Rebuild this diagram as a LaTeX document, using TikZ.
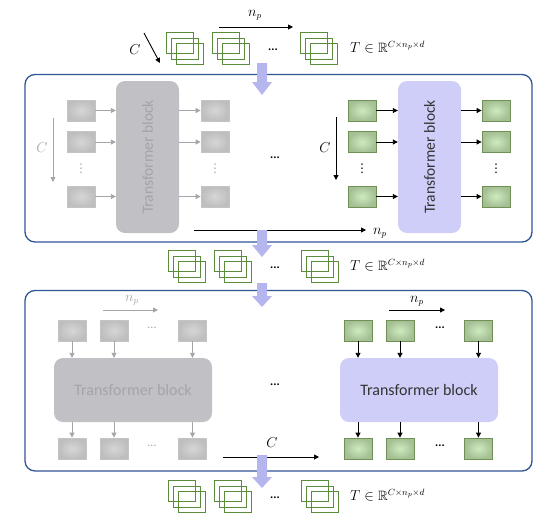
\documentclass[tikz,border=0pt]{standalone}
\usepackage{fontspec}
\setmainfont{Carlito}
\newfontfamily\symfont{DejaVu Sans}
\usepackage{amssymb}
\usetikzlibrary{arrows.meta}
\definecolor{frameblue}{RGB}{47,85,151}
\definecolor{stackgreen}{RGB}{90,140,60}
\definecolor{patchedge}{RGB}{110,145,85}
\definecolor{patchin}{RGB}{205,235,192}
\definecolor{patchout}{RGB}{165,190,148}
\definecolor{grayedge}{RGB}{196,196,196}
\definecolor{grayin}{RGB}{214,214,214}
\definecolor{grayout}{RGB}{190,190,190}
\definecolor{blockgray}{RGB}{192,192,197}
\definecolor{fadegray}{RGB}{165,165,168}
\definecolor{lav}{RGB}{206,206,248}
\definecolor{fatlav}{RGB}{182,182,238}
\begin{document}
\begin{tikzpicture}[x=1pt,y=-1pt,
  frame/.style={draw=frameblue,line width=1.3pt,rounded corners=10pt},
  stack/.style={draw=stackgreen,line width=0.9pt,minimum width=27pt,minimum height=21pt,inner sep=0pt},
  patch/.style={draw=patchedge,line width=0.8pt,inner color=patchin,outer color=patchout,minimum width=28pt,minimum height=21pt,inner sep=0pt},
  gpatch/.style={draw=grayedge,line width=0.8pt,inner color=grayin,outer color=grayout,minimum width=28pt,minimum height=21pt,inner sep=0pt},
  pblock/.style={fill=lav,rounded corners=9pt,inner sep=0pt,text=black!80,font=\fontsize{16}{18}\selectfont},
  gblock/.style={fill=blockgray,rounded corners=9pt,inner sep=0pt,text=fadegray,font=\fontsize{16}{18}\selectfont},
  arr/.style={line width=0.9pt,-{Triangle[length=5pt,width=5pt]}},
  garr/.style={arr,draw=fadegray,fill=fadegray},
  lbl/.style={font=\fontsize{13.5}{15}\selectfont,inner sep=0pt},
  dots/.style={font=\fontsize{12}{14}\selectfont\bfseries,inner sep=0pt},
  vdot/.style={inner sep=0pt,font=\symfont\fontsize{12}{14}\selectfont},
  fatarrow/.style={fill=fatlav}]
\useasboundingbox (0,0) rectangle (548,525);

% stacks of patches
\node[stack] (s1) at (189.5,54) {};
\node[stack] (s1b) at ([shift={(-5,-5.5)}]s1) {};
\node[stack] (s1c) at ([shift={(-10,-11)}]s1) {};
\node[stack] (s2) at (236,54) {};
\node[stack] (s2b) at ([shift={(-5,-5.5)}]s2) {};
\node[stack] (s2c) at ([shift={(-10,-11)}]s2) {};
\node[stack] (s3) at (323.5,54) {};
\node[stack] (s3b) at ([shift={(-5,-5.5)}]s3) {};
\node[stack] (s3c) at ([shift={(-10,-11)}]s3) {};
\node[dots] (sd) at (273,50) {...};
\node[lbl,anchor=west] (sT) at (350,47) {$T\in\mathbb{R}^{C\times n_p\times d}$};
\coordinate (cA) at (144,33);
\coordinate (cB) at (160,63);
\draw[arr] (cA) -- (cB);
\node[lbl] (sC) at (135,50) {$C$};
\coordinate (nA) at (219,27);
\coordinate (nB) at (293,27);
\draw[arr] (nA) -- (nB);
\node[lbl] (sn) at (255,15) {$n_p$};

\node[stack] (m1) at (192,272) {};
\node[stack] (m1b) at ([shift={(-5,-5.5)}]m1) {};
\node[stack] (m1c) at ([shift={(-10,-11)}]m1) {};
\node[stack] (m2) at (238,272) {};
\node[stack] (m2b) at ([shift={(-5,-5.5)}]m2) {};
\node[stack] (m2c) at ([shift={(-10,-11)}]m2) {};
\node[stack] (m3) at (325,272) {};
\node[stack] (m3b) at ([shift={(-5,-5.5)}]m3) {};
\node[stack] (m3c) at ([shift={(-10,-11)}]m3) {};
\node[dots] (md) at (275,268) {...};
\node[lbl,anchor=west] (mT) at (350,265) {$T\in\mathbb{R}^{C\times n_p\times d}$};

\node[stack] (b1) at (192,502) {};
\node[stack] (b1b) at ([shift={(-5,-5.5)}]b1) {};
\node[stack] (b1c) at ([shift={(-10,-11)}]b1) {};
\node[stack] (b2) at (238,502) {};
\node[stack] (b2b) at ([shift={(-5,-5.5)}]b2) {};
\node[stack] (b2c) at ([shift={(-10,-11)}]b2) {};
\node[stack] (b3) at (325,502) {};
\node[stack] (b3b) at ([shift={(-5,-5.5)}]b3) {};
\node[stack] (b3c) at ([shift={(-10,-11)}]b3) {};
\node[dots] (bd) at (275,498) {...};
\node[lbl,anchor=west] (bT) at (350,495) {$T\in\mathbb{R}^{C\times n_p\times d}$};

% first frame: attention along C
\draw[frame] (25,74.5) rectangle (532,242);
\node[gblock,minimum width=63pt,minimum height=152pt] (gblk1) at (147.5,157) {};
\node[rotate=90,text=fadegray,font=\fontsize{15.5}{18}\selectfont] (gtx1) at (gblk1.center) {Transformer block};
\node[gpatch] (gi1) at (81,110.5) {};
\node[gpatch] (gi2) at (81,142) {};
\node[gpatch] (gi3) at (81,196.5) {};
\node[gpatch] (go1) at (215,110.5) {};
\node[gpatch] (go2) at (215,142) {};
\node[gpatch] (go3) at (215,196.5) {};
\node[vdot,text=fadegray] (gv1) at (81,169) {⋮};
\node[vdot,text=fadegray] (gv2) at (215,169) {⋮};
\draw[garr] (gi1) -- (gi1 -| gblk1.west);
\draw[garr] (gi2) -- (gi2 -| gblk1.west);
\draw[garr] (gi3) -- (gi3 -| gblk1.west);
\draw[garr] (gi1 -| gblk1.east) -- (go1);
\draw[garr] (gi2 -| gblk1.east) -- (go2);
\draw[garr] (gi3 -| gblk1.east) -- (go3);
\coordinate (gcA) at (53,118);
\coordinate (gcB) at (53,182);
\draw[garr] (gcA) -- (gcB);
\node[lbl,text=fadegray] (gC1) at (42,148) {$C$};

\node[dots] (d1) at (275,158) {...};

\node[pblock,minimum width=63pt,minimum height=152pt] (pblk1) at (429.5,157) {};
\node[rotate=90,text=black!80,font=\fontsize{15.5}{18}\selectfont] (ptx1) at (pblk1.center) {Transformer block};
\node[patch] (pi1) at (362,110.5) {};
\node[patch] (pi2) at (362,142) {};
\node[patch] (pi3) at (362,196.5) {};
\node[patch] (po1) at (496,110.5) {};
\node[patch] (po2) at (496,142) {};
\node[patch] (po3) at (496,196.5) {};
\node[vdot] (pv1) at (362,169) {⋮};
\node[vdot] (pv2) at (496,169) {⋮};
\draw[arr] (pi1) -- (pi1 -| pblk1.west);
\draw[arr] (pi2) -- (pi2 -| pblk1.west);
\draw[arr] (pi3) -- (pi3 -| pblk1.west);
\draw[arr] (pi1 -| pblk1.east) -- (po1);
\draw[arr] (pi2 -| pblk1.east) -- (po2);
\draw[arr] (pi3 -| pblk1.east) -- (po3);
\coordinate (pcA) at (336,117);
\coordinate (pcB) at (336,180);
\draw[arr] (pcA) -- (pcB);
\node[lbl] (pC1) at (325,148) {$C$};
\coordinate (lnA) at (194,230);
\coordinate (lnB) at (366,230);
\draw[arr] (lnA) -- (lnB);
\node[lbl] (ln) at (380,233) {$n_p$};

% second frame: attention along n_p
\draw[frame] (25,290.5) rectangle (532,471);
\node[gblock,minimum width=158pt,minimum height=64pt] (gblk2) at (133,390) {Transformer block};
\node[gpatch] (gt1) at (72,330.5) {};
\node[gpatch] (gt2) at (114,330.5) {};
\node[gpatch] (gt3) at (192.5,330.5) {};
\node[gpatch] (gb1) at (72,448.5) {};
\node[gpatch] (gb2) at (114,448.5) {};
\node[gpatch] (gb3) at (192.5,448.5) {};
\node[dots,text=fadegray,font=\fontsize{12}{14}\selectfont] (gh1) at (152,328) {...};
\node[dots,text=fadegray,font=\fontsize{12}{14}\selectfont] (gh2) at (152,446) {...};
\draw[garr] (gt1) -- (gt1 |- gblk2.north);
\draw[garr] (gt2) -- (gt2 |- gblk2.north);
\draw[garr] (gt3) -- (gt3 |- gblk2.north);
\draw[garr] (gt1 |- gblk2.south) -- (gb1);
\draw[garr] (gt2 |- gblk2.south) -- (gb2);
\draw[garr] (gt3 |- gblk2.south) -- (gb3);
\coordinate (gnA) at (103,310);
\coordinate (gnB) at (158,310);
\draw[garr] (gnA) -- (gnB);
\node[lbl,text=fadegray] (gn2) at (132,300) {$n_p$};

\node[dots] (d2) at (275,385) {...};
\coordinate (lcA) at (223,457);
\coordinate (lcB) at (319,457);
\draw[arr] (lcA) -- (lcB);
\node[lbl] (lc) at (272,443) {$C$};

\node[pblock,minimum width=158pt,minimum height=64pt] (pblk2) at (419,390) {Transformer block};
\node[patch] (pt1) at (358,330.5) {};
\node[patch] (pt2) at (400,330.5) {};
\node[patch] (pt3) at (478.5,330.5) {};
\node[patch] (pb1) at (358,448.5) {};
\node[patch] (pb2) at (400,448.5) {};
\node[patch] (pb3) at (478.5,448.5) {};
\node[dots] (ph1) at (440,328) {...};
\node[dots] (ph2) at (440,446) {...};
\draw[arr] (pt1) -- (pt1 |- pblk2.north);
\draw[arr] (pt2) -- (pt2 |- pblk2.north);
\draw[arr] (pt3) -- (pt3 |- pblk2.north);
\draw[arr] (pt1 |- pblk2.south) -- (pb1);
\draw[arr] (pt2 |- pblk2.south) -- (pb2);
\draw[arr] (pt3 |- pblk2.south) -- (pb3);
\coordinate (pnA) at (389,310);
\coordinate (pnB) at (445,310);
\draw[arr] (pnA) -- (pnB);
\node[lbl] (pn2) at (417,301) {$n_p$};

% flow arrows between stages
\fill[fatarrow] (257,63) -- (267,63) -- (267,82) -- (272,82) -- (262,95) -- (252,82) -- (257,82) -- cycle;
\fill[fatarrow] (257,230) -- (267,230) -- (267,245) -- (272,245) -- (262,257) -- (252,245) -- (257,245) -- cycle;
\fill[fatarrow] (257,283) -- (267,283) -- (267,296) -- (272,296) -- (262,307) -- (252,296) -- (257,296) -- cycle;
\fill[fatarrow] (257,455) -- (267,455) -- (267,477) -- (272,477) -- (262,488) -- (252,477) -- (257,477) -- cycle;
\end{tikzpicture}
\end{document}
